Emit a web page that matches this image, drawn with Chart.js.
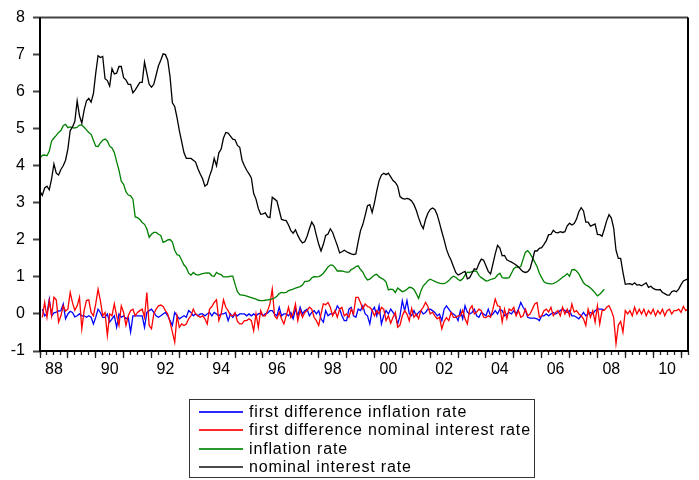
<!DOCTYPE html>
<html><head><meta charset="utf-8">
<script src="https://cdn.jsdelivr.net/npm/chart.js@4"></script>
<style>
html,body{margin:0;padding:0;background:#fff}
#wrap{position:relative;width:699px;height:480px;overflow:hidden;background:#fff}
#legend{position:absolute;left:189px;top:399px;width:346px;height:79px;border:1px solid #333;box-sizing:border-box;font-family:"Liberation Sans",Arial,sans-serif;font-size:16px;letter-spacing:0.85px;color:#000;padding-top:3px}
.row{display:flex;align-items:center;height:18.3px;white-space:nowrap}
.sw{width:44px;height:2px;margin-left:9px;margin-right:6px;flex:none}
</style></head>
<body><div id="wrap"><canvas id="c" width="699" height="480"></canvas><div id="legend"></div></div>
<script>
// ---- data (monthly, 1988M01 onward) ----
const START_YEAR = 1988;
const N_MONTHS = 280;
const categories = Array.from({length: N_MONTHS}, (_, i) => (START_YEAR + Math.floor(i / 12)) + 'M' + String(i % 12 + 1).padStart(2, '0'));
const yearTickLabels = ['88','90','92','94','96','98','00','02','04','06','08','10'];
const yTicks = [-1,0,1,2,3,4,5,6,7,8];

const seriesNames = ['first difference inflation rate','first difference nominal interest rate','inflation rate','nominal interest rate'];

const nominalRate = [
3.31,3.2,3.4,3.45,3.35,3.65,4.05,3.8,3.75,3.9,
4.0,4.15,4.45,4.95,5.05,5.2,5.75,5.35,5.15,5.5,
5.75,5.82,5.72,5.95,6.5,6.97,6.92,6.95,6.35,6.3,
6.15,6.62,6.48,6.5,6.68,6.68,6.38,6.32,6.2,6.2,
5.97,6.05,6.15,6.25,6.25,6.8,6.5,6.2,6.12,6.2,
6.45,6.7,6.85,7.02,7.0,6.85,6.4,5.7,5.6,5.3,
4.95,4.65,4.35,4.2,4.2,4.2,4.15,4.1,3.92,3.78,
3.65,3.45,3.5,3.72,3.9,4.2,4.0,4.35,4.45,4.75,
4.9,4.88,4.8,4.72,4.7,4.55,
4.5,4.15,4.0,3.88,3.78,3.67,3.25,3.1,2.85,2.69,
2.7,2.73,2.62,2.6,3.15,3.1,3.05,2.8,2.55,2.53,
2.52,2.4,2.25,2.18,2.27,2.12,2.0,1.92,1.95,2.1,
2.3,2.48,2.38,2.12,1.88,1.7,1.88,2.12,2.16,2.3,
2.2,2.02,1.85,1.65,1.68,1.72,1.68,1.65,1.62,1.6,
1.62,1.95,2.25,2.42,2.66,2.92,2.95,2.74,3.0,3.32,
3.6,3.75,3.8,3.76,3.8,3.7,3.6,3.55,3.45,3.17,
3.12,3.1,3.12,3.1,3.05,2.95,2.8,2.6,2.42,2.3,
2.55,2.72,2.82,2.86,2.82,2.68,2.46,2.22,2.0,1.75,
1.58,1.45,1.28,1.12,1.05,1.08,1.12,1.15,0.95,0.98,
1.1,1.22,1.2,1.36,1.48,1.45,1.3,1.15,1.08,1.35,
1.62,1.85,1.78,1.57,1.58,1.46,1.43,1.4,1.36,1.32,
1.27,1.2,1.14,1.12,1.14,1.22,1.45,1.7,1.7,1.77,
1.79,1.88,1.98,2.14,2.15,2.26,2.2,2.19,2.22,2.2,
2.22,2.38,2.45,2.4,2.44,2.56,2.76,2.87,2.78,2.48,
2.48,2.37,2.4,2.43,2.15,2.14,2.1,2.3,2.52,2.68,
2.59,2.32,1.72,1.5,1.5,1.12,0.8,0.81,0.82,0.79,
0.84,0.78,0.79,0.76,0.8,0.84,0.72,0.75,0.69,0.66,
0.65,0.66,0.58,0.55,0.51,0.51,0.6,0.63,0.6,0.67,
0.79,0.89,0.92,0.95];

const inflationRate = [
4.2,4.28,4.29,4.27,4.4,4.67,4.75,4.82,4.9,4.95,
5.08,5.12,5.03,5.05,5.03,5.02,5.04,5.1,5.1,5.04,
4.97,4.9,4.85,4.69,4.53,4.52,4.62,4.69,4.72,4.67,
4.53,4.48,4.36,4.11,3.88,3.58,3.5,3.3,3.21,3.19,
3.1,2.62,2.6,2.55,2.47,2.42,2.3,2.07,2.15,2.2,
2.2,2.15,2.12,1.93,1.96,2.0,2.01,1.94,1.72,1.6,
1.58,1.45,1.32,1.25,1.1,1.05,1.12,1.07,1.05,1.07,
1.09,1.1,1.11,1.1,1.03,1.02,1.12,1.08,1.06,1.0,
1.0,1.0,1.02,1.02,0.8,0.6,0.52,0.51,0.5,0.48,
0.46,0.44,0.42,0.4,0.37,0.36,0.36,0.37,0.38,0.39,
0.41,0.43,0.48,0.55,0.58,0.57,0.58,0.63,0.65,0.67,
0.7,0.72,0.74,0.78,0.88,0.88,0.9,0.97,1.01,1.0,
1.01,1.04,1.1,1.18,1.27,1.32,1.32,1.25,1.16,1.16,
1.16,1.14,1.13,1.13,1.2,1.23,1.28,1.3,1.2,1.13,
1.0,0.92,0.94,1.0,1.05,1.07,1.0,0.96,0.93,0.86,
0.65,0.67,0.66,0.58,0.7,0.65,0.6,0.62,0.67,0.72,
0.71,0.66,0.55,0.42,0.62,0.76,0.82,0.9,0.94,0.91,
0.88,0.85,0.83,0.82,0.82,0.85,0.9,0.97,1.02,0.99,
0.93,0.9,0.95,1.05,1.13,1.12,1.14,1.16,1.15,1.04,
0.98,0.94,0.89,0.9,0.93,0.95,0.97,1.05,1.1,0.98,
0.97,0.97,0.98,1.1,1.22,1.27,1.25,1.28,1.48,1.67,
1.71,1.63,1.52,1.4,1.28,1.1,0.98,0.87,0.83,0.82,
0.81,0.82,0.85,0.89,0.94,0.99,1.03,1.09,1.02,1.19,
1.2,1.16,1.08,0.96,0.84,0.78,0.75,0.7,0.64,0.57,
0.49,0.53,0.6,0.67];

const diffInflation = [null,
0.13,-0.05,0.0,0.4,-0.05,0.03,0.05,0.08,0.09,0.27,
-0.13,0.0,0.07,0.04,-0.08,-0.05,0.0,-0.05,-0.05,-0.09,
-0.05,-0.09,-0.27,-0.09,0.13,0.04,-0.09,-0.09,0.0,-0.22,
-0.13,-0.05,-0.36,0.0,-0.09,-0.05,-0.13,-0.09,-0.49,-0.05,
-0.05,-0.05,-0.05,-0.05,-0.36,0.04,0.09,0.13,0.04,-0.05,
-0.09,-0.05,0.0,0.04,-0.05,-0.18,-0.31,0.04,-0.05,-0.13,
-0.09,-0.05,-0.09,0.09,0.04,-0.05,0.0,-0.05,0.0,0.0,
-0.05,0.0,0.04,-0.05,0.04,0.0,-0.05,0.0,0.0,0.04,
-0.18,
0.0,-0.09,0.0,-0.05,0.0,0.0,0.0,-0.05,0.0,-0.05,
0.0,-0.05,0.0,0.02,-0.05,0.0,0.02,0.09,0.09,0.0,
-0.05,0.18,-0.05,0.0,0.0,-0.05,0.04,-0.13,0.13,-0.05,
0.18,0.0,0.09,0.13,-0.05,0.04,0.09,0.0,0.09,-0.13,
-0.22,0.09,-0.05,0.0,0.0,0.04,0.22,0.13,-0.05,-0.18,
-0.18,0.13,0.18,-0.05,-0.09,0.13,0.09,0.22,0.0,-0.05,
-0.27,0.09,0.18,-0.05,0.22,-0.27,-0.05,0.09,0.0,0.13,
0.04,-0.05,-0.27,-0.05,0.36,0.09,0.36,0.0,-0.05,0.09,
-0.05,0.04,0.09,0.0,0.04,0.13,0.13,0.09,0.04,-0.05,
0.0,-0.18,0.13,0.22,0.13,0.04,0.0,-0.05,-0.18,
0.09,-0.13,0.22,0.05,0.0,0.04,0.13,-0.05,-0.09,0.04,
0.0,-0.05,0.13,-0.05,0.0,0.09,0.0,0.13,0.09,-0.05,
0.0,0.04,0.0,0.09,0.0,0.13,0.31,0.18,0.09,-0.09,
-0.11,-0.11,-0.11,-0.13,-0.18,-0.05,-0.05,0.0,-0.05,0.0,
0.04,0.0,0.04,0.09,0.13,0.09,0.04,0.09,-0.05,-0.05,
-0.09,-0.13,-0.05,0.04,-0.05,0.0,0.04,0.0,0.09,0.13,
0.13,0.13,0.1];

const diffNominal = [null,
-0.09,0.31,-0.09,0.36,-0.05,0.45,0.38,-0.22,-0.05,0.22,
0.08,0.13,0.58,0.3,0.1,0.22,0.45,-0.4,0.09,0.36,
0.38,0.04,-0.05,0.27,0.67,0.36,-0.05,0.04,-0.58,0.0,
-0.05,0.27,-0.05,-0.31,0.22,0.04,-0.31,-0.05,0.09,0.13,
-0.05,0.04,0.09,0.13,-0.09,0.58,-0.31,-0.4,0.0,0.13,
0.22,0.24,0.2,0.09,0.0,-0.22,-0.49,-0.76,-0.05,-0.36,
-0.27,-0.31,-0.27,-0.13,-0.05,0.13,0.0,-0.05,-0.09,-0.05,
-0.13,-0.27,0.13,0.2,0.31,0.38,-0.18,0.0,0.38,0.18,0.09,
-0.04,-0.05,0.04,-0.2,-0.27,-0.27,-0.18,-0.18,-0.13,-0.18,
-0.45,0.0,-0.36,0.09,-0.05,-0.05,0.09,0.27,0.67,-0.05,
-0.13,0.04,-0.13,-0.27,-0.05,0.18,-0.1,0.0,0.27,-0.18,
0.09,-0.09,0.04,0.09,0.18,0.13,-0.09,-0.18,-0.31,0.0,
0.27,0.25,0.31,0.18,-0.05,0.09,-0.09,0.13,0.18,-0.05,
0.0,-0.09,0.13,0.0,0.45,0.45,0.3,0.13,0.27,0.2,
0.18,0.1,-0.05,0.09,0.0,0.18,0.13,-0.18,-0.05,-0.25,
-0.09,0.04,-0.36,-0.3,-0.05,0.09,0.0,-0.18,0.15,-0.09,
0.0,-0.13,0.09,0.18,0.31,0.2,0.0,0.05,-0.05,-0.13,
-0.09,-0.4,-0.2,-0.1,-0.18,0.04,-0.09,-0.09,-0.05,
-0.05,0.1,-0.13,-0.27,0.13,0.22,0.0,0.05,0.13,0.09,
-0.09,-0.1,-0.05,-0.09,0.13,0.4,0.22,0.2,-0.22,0.13,
-0.13,0.13,0.09,0.18,-0.05,0.09,-0.09,-0.05,0.13,-0.05,
0.0,0.13,0.27,0.31,-0.09,-0.05,0.09,0.13,0.05,0.18,
-0.05,0.04,0.09,-0.05,0.18,0.0,0.13,-0.05,0.27,0.05,
0.09,0.0,-0.05,-0.13,-0.31,0.13,-0.09,0.09,-0.22,0.22,
-0.27,0.09,0.1,0.18,0.22,0.09,-0.1,-0.8,-0.3,-0.2,
-0.49,0.09,0.0,0.09,-0.05,0.18,0.0,0.13,0.0,0.13,
-0.05,0.09,0.0,0.13,-0.05,0.09,0.0,0.13,-0.05,0.09,
0.13,0.0,0.09,0.09,0.13,0.04,0.2,0.09,0.13];

// ---- helpers ----
function toPoints(arr){ const out=[]; arr.forEach((v,i)=>{ if(v!==null && v!==undefined) out.push({x:i,y:v}); }); return out; }
function yearIndex(lbl){ const y = +lbl; const full = y >= 50 ? 1900 + y : 2000 + y; return (full - START_YEAR) * 12; }
const labelAt = {};
yearTickLabels.forEach(l => { labelAt[yearIndex(l) + 6] = l; });
const quarterTicks = categories.map((c,i)=>i).filter(i => i % 3 === 0);
const yearStartTicks = categories.map((c,i)=>i).filter(i => i % 12 === 0);

const FONT = '"Liberation Sans", Arial, sans-serif';
const colors = ['#0000ff','#ff0000','#008000','#000000'];
const swatch = ['#2a2aff','#ff2a2a','#2a9a2a','#4a4a4a'];
const seriesData = [diffInflation, diffNominal, inflationRate, nominalRate];

const frame = {
  id: 'frame',
  afterDatasetsDraw(chart){
    const {ctx, chartArea:{left,top,right,bottom}} = chart;
    ctx.save();
    ctx.lineWidth = 2;
    ctx.strokeStyle = '#444';
    ctx.beginPath(); ctx.moveTo(left, top); ctx.lineTo(right, top); ctx.stroke();
    ctx.strokeStyle = '#000';
    ctx.beginPath(); ctx.moveTo(right, top); ctx.lineTo(right, bottom); ctx.lineTo(left, bottom); ctx.lineTo(left, top); ctx.stroke();
    ctx.restore();
  }
};

new Chart(document.getElementById('c'), {
  type: 'line',
  data: {
    datasets: seriesData.map((d, k) => ({
      label: seriesNames[k],
      data: toPoints(d),
      borderColor: colors[k],
      backgroundColor: colors[k],
      borderWidth: 1.3,
      pointRadius: 0,
      tension: 0,
      fill: false,
      order: 4 - k
    }))
  },
  options: {
    responsive: false,
    animation: false,
    devicePixelRatio: 1,
    layout: { padding: { left: 0, right: 11, top: 15, bottom: 99 } },
    plugins: { legend: { display: false }, tooltip: { enabled: false } },
    scales: {
      x: {
        type: 'linear', min: 0, max: N_MONTHS - 1, position: 'bottom',
        afterBuildTicks: s => { s.ticks = quarterTicks.map(v => ({value: v})); },
        afterFit: s => { s.height = 30; },
        grid: { drawOnChartArea: false, drawTicks: true, tickLength: 4, tickColor: '#222', tickWidth: 1.3 },
        border: { display: false },
        ticks: { autoSkip: false, maxRotation: 0, minRotation: 0, padding: 5, color: '#000',
                 font: { family: FONT, size: 16 },
                 callback: v => labelAt[v] || '' }
      },
      xMajor: {
        type: 'linear', axis: 'x', min: 0, max: N_MONTHS - 1, position: { y: -1 },
        afterBuildTicks: s => { s.ticks = yearStartTicks.map(v => ({value: v})); },
        grid: { drawOnChartArea: false, drawTicks: true, tickLength: 7, tickColor: '#222', tickWidth: 1.3 },
        border: { display: false },
        ticks: { display: false }
      },
      y: {
        type: 'linear', min: -1, max: 8, position: 'left',
        afterBuildTicks: s => { s.ticks = yTicks.map(v => ({value: v})); },
        afterFit: s => { s.width = 40; },
        grid: { drawOnChartArea: false, drawTicks: true, tickLength: 7, tickColor: '#444', tickWidth: 2 },
        border: { display: false },
        ticks: { padding: 8, color: '#000', font: { family: FONT, size: 16 } }
      }
    }
  },
  plugins: [frame]
});

const leg = document.getElementById('legend');
seriesNames.forEach((name, k) => {
  const r = document.createElement('div'); r.className = 'row';
  const s = document.createElement('span'); s.className = 'sw'; s.style.background = swatch[k];
  const t = document.createElement('span'); t.textContent = name;
  r.appendChild(s); r.appendChild(t); leg.appendChild(r);
});
</script>
</body></html>
